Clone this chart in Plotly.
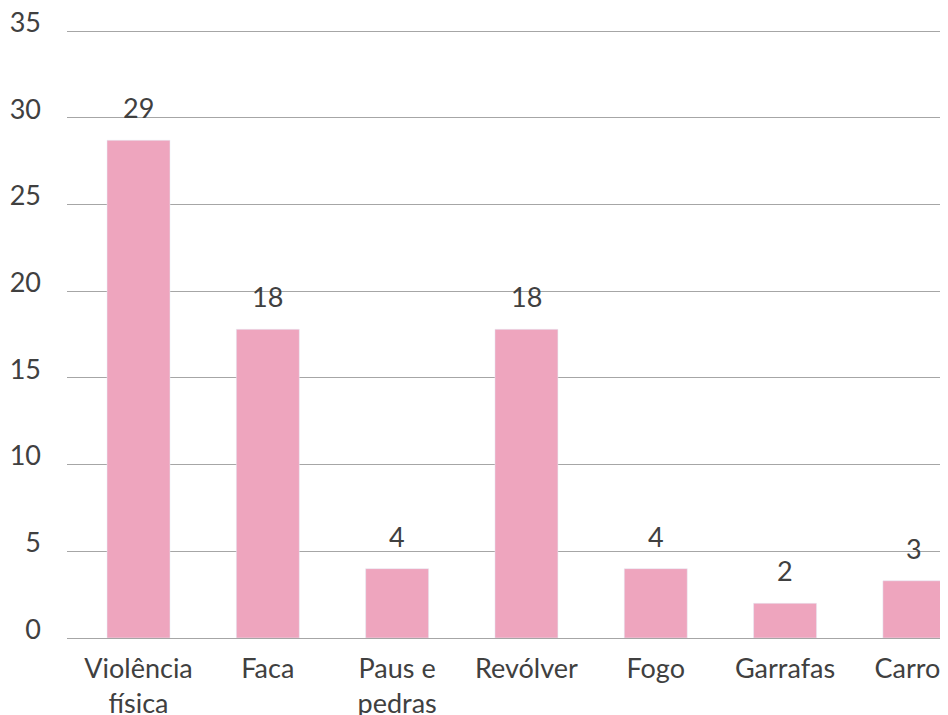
import plotly.graph_objects as go

categories = ["Violência<br>física", "Faca", "Paus e<br>pedras", "Revólver", "Fogo", "Garrafas", "Carro&nbsp;&nbsp;"]
values = [28.7, 17.8, 4.0, 17.8, 4.0, 2.0, 3.3]
labels = ["29", "18", "4", "18", "4", "2", "3"]
y_ticks = [0, 5, 10, 15, 20, 25, 30, 35]

BAR = "#EEA5BE"
TXT = "#404040"
FONT = "Lato, 'Open Sans', sans-serif"

Y_MAX = 35.75
LABEL_LIFT = 0.5  # tick labels sit slightly above their gridlines

fig = go.Figure()
fig.add_trace(go.Bar(x=list(range(len(categories))), y=values, marker_color=BAR,
                     width=0.487, hoverinfo="skip"))
# invisible helper trace so the label axis is drawn
fig.add_trace(go.Scatter(x=[0], y=[0], yaxis="y2", mode="markers",
                         marker=dict(opacity=0), hoverinfo="skip"))

for i, (v, t) in enumerate(zip(values, labels)):
    fig.add_annotation(x=i, y=v, text=t, showarrow=False, yanchor="bottom",
                       yshift=14, font=dict(family=FONT, size=27, color=TXT))

fig.update_layout(
    width=940, height=707,
    margin=dict(l=59, r=0, t=10, b=77),
    plot_bgcolor="white", paper_bgcolor="white",
    showlegend=False,
    font=dict(family=FONT, size=27, color=TXT),
    xaxis=dict(range=[-0.553, 6.26], tickmode="array",
               tickvals=list(range(len(categories))), ticktext=categories,
               showgrid=False, zeroline=False, showline=False, ticks="",
               ticklabelstandoff=12, automargin=False, ticklabeloverflow="allow",
               tickfont=dict(family=FONT, size=27, color=TXT)),
    yaxis=dict(range=[0, Y_MAX], tickvals=y_ticks, showticklabels=False,
               showgrid=True, gridcolor="#A6A6A6",
               gridwidth=1.3, zeroline=True, zerolinecolor="#A6A6A6",
               zerolinewidth=1.3, showline=False, ticks="", automargin=False),
    yaxis2=dict(range=[-LABEL_LIFT, Y_MAX - LABEL_LIFT], tickvals=y_ticks,
                overlaying="y", side="left", showgrid=False, zeroline=False,
                showline=False, ticks="", ticklabelstandoff=25,
                automargin=False, ticklabeloverflow="allow",
                tickfont=dict(family=FONT, size=27, color=TXT)),
)

fig.write_html("out.html")
